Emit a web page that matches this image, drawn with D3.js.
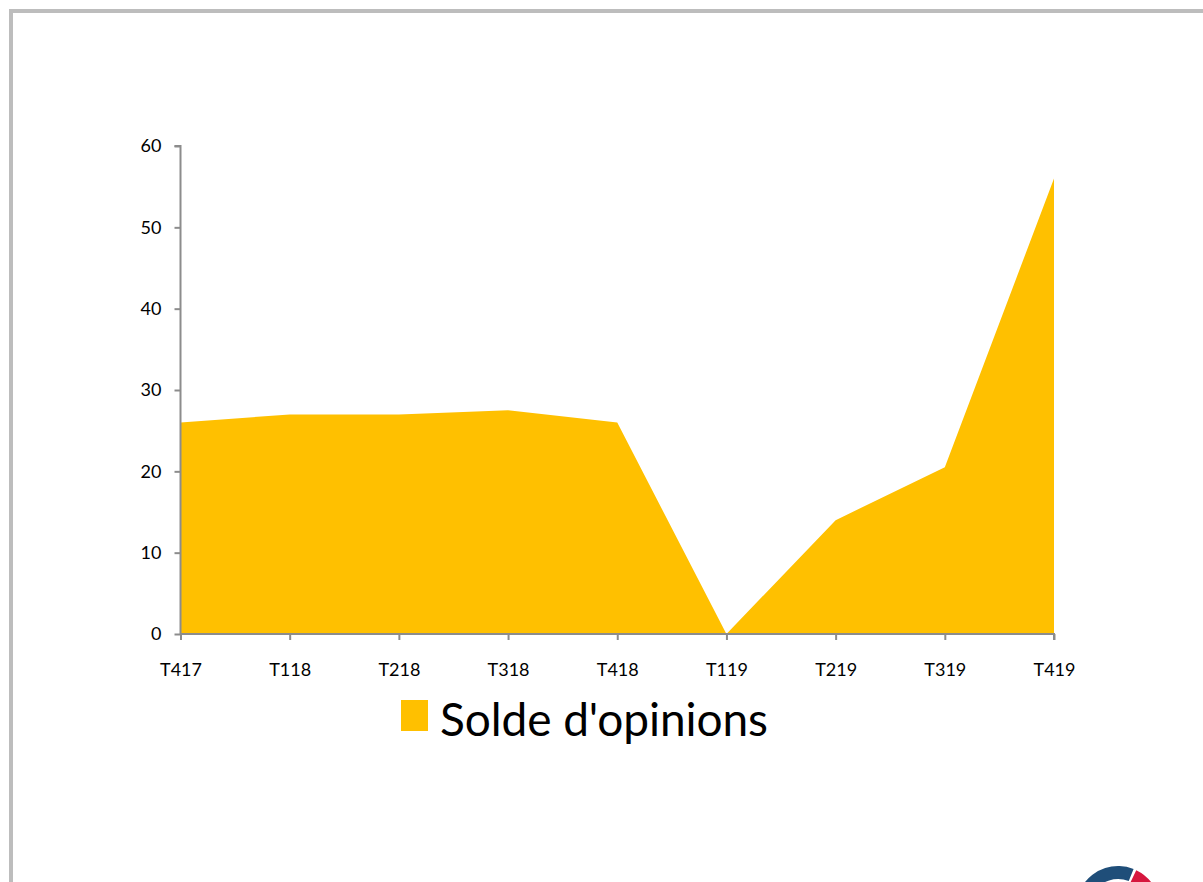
<!DOCTYPE html>
<html><head><meta charset="utf-8">
<script src="https://cdn.jsdelivr.net/npm/d3@7"></script>
<style>body{margin:0;background:#fff}svg{display:block}</style>
</head><body><svg id="c" width="1203" height="882"></svg>
<script>
const categories = ["T417","T118","T218","T318","T418","T119","T219","T319","T419"];
const values = [26, 27, 27, 27.5, 26, 0, 14, 20.5, 56];
const yTicks = [0,10,20,30,40,50,60];
const seriesName = "Solde d'opinions";

const svg = d3.select("#c");
const font = "Lato, 'Open Sans', sans-serif";
// frame
svg.append("rect").attr("x",11).attr("y",11).attr("width",1240).attr("height",1000)
  .attr("fill","none").attr("stroke","#bdbdbd").attr("stroke-width",4);

const x = d3.scalePoint().domain(categories).range([180.5,1054]);
const y = d3.scaleLinear().domain([0,60]).range([634,146]);

const area = d3.area().x(d=>x(d.c)).y0(y(0)).y1(d=>y(d.v));
const data = categories.map((c,i)=>({c, v: values[i]}));
svg.append("path").datum(data).attr("d",area).attr("fill","#ffc000");

const yAxis = svg.append("g").attr("transform","translate(180.5,0)")
  .call(d3.axisLeft(y).tickValues(yTicks).tickSize(6).tickPadding(13).tickFormat(d3.format("d")));
const xAxis = svg.append("g").attr("transform","translate(0,634)")
  .call(d3.axisBottom(x).tickSize(6).tickPadding(23));
[yAxis,xAxis].forEach(g=>{
  g.select(".domain").attr("stroke","#8c8c8c").attr("stroke-width",2);
  g.selectAll(".tick line").attr("stroke","#8c8c8c").attr("stroke-width",2);
  g.selectAll("text").attr("fill","#000").style("font-family",font).style("font-size","18px");
});
yAxis.select(".domain").attr("d","M-6,146H0V634");
xAxis.select(".domain").attr("d","M180.5,0H1054V6");

// legend
const lg = svg.append("g");
lg.append("rect").attr("x",401).attr("y",700).attr("width",27).attr("height",31).attr("fill","#ffc000");
lg.append("text").attr("x",440).attr("y",736).text(seriesName)
  .style("font-family",font).style("font-size","46px").attr("textLength",328).attr("fill","#000");

// logo fragment
const arc = d3.arc().innerRadius(29).outerRadius(42);
const logo = svg.append("g").attr("transform","translate(1118,908)");
logo.append("path").attr("d",arc({startAngle:-1.0,endAngle:0.38})).attr("fill","#1f4e79");
logo.append("path").attr("d",arc({startAngle:0.45,endAngle:1.1})).attr("fill","#d6173e");
</script></body></html>
